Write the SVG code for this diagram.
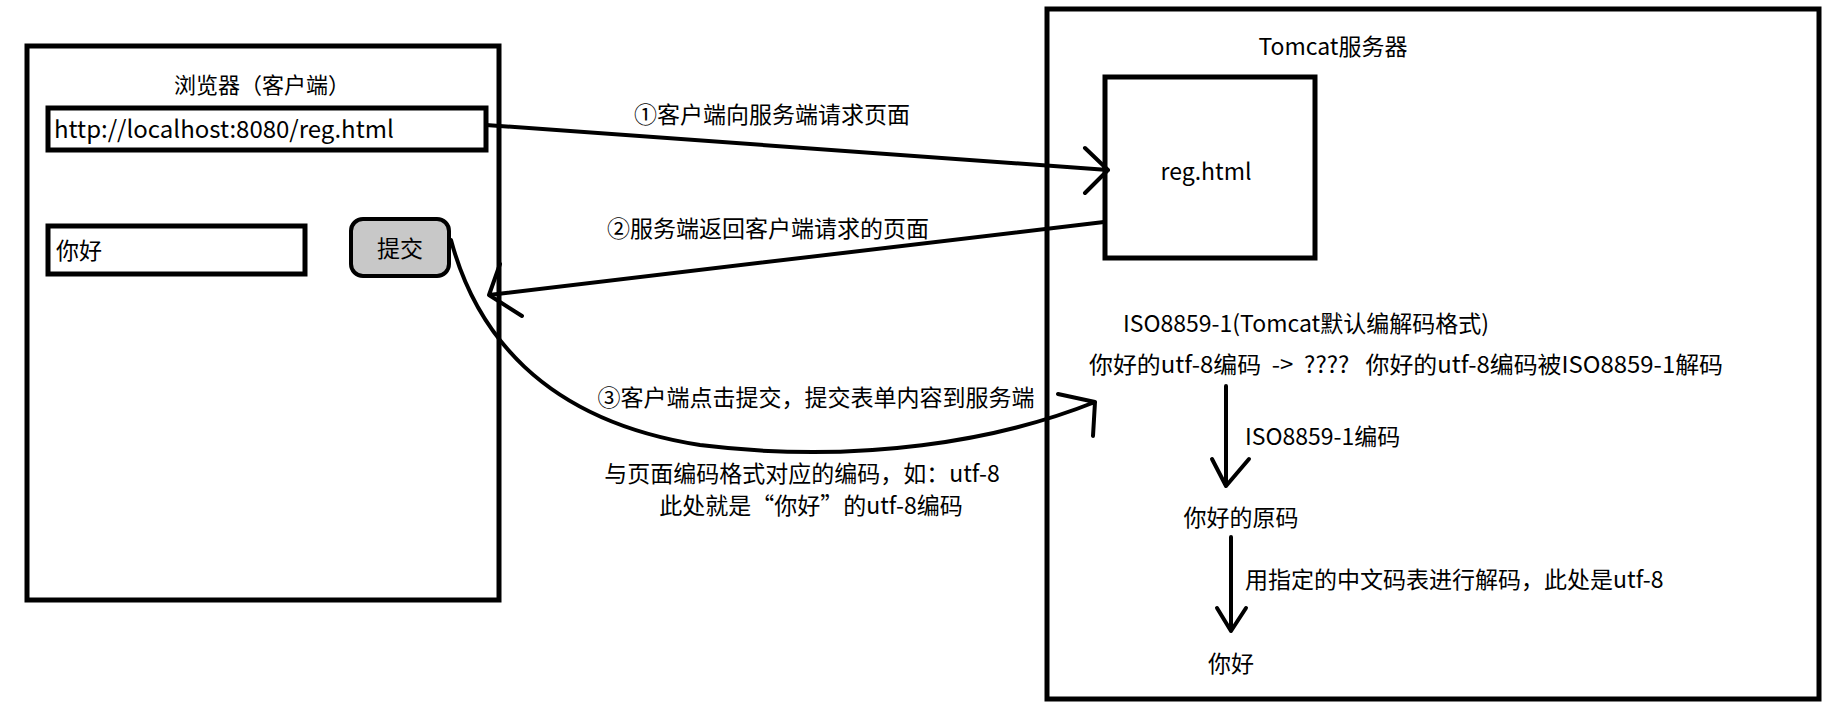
<svg xmlns="http://www.w3.org/2000/svg" width="1833" height="713" viewBox="0 0 1833 713">
<style>
text{font-family:"Noto Sans CJK SC","Noto Sans",sans-serif;font-size:23px;fill:#000}
.c{text-anchor:middle}
.b{fill:#fff;stroke:#000;stroke-width:5}
.l{fill:none;stroke:#000;stroke-width:4;stroke-linecap:round;stroke-linejoin:round}
</style>
<rect width="1833" height="713" fill="#fff"/>
<g id="browser">
<rect class="b" x="27" y="46" width="472" height="554"/>
<text class="c" x="262" y="93" style="font-size:22px">浏览器（客户端）</text>
</g>
<g id="url"><rect class="b" x="48" y="108" width="438" height="42"/><text x="54" y="138" style="font-size:24px">http://localhost:8080/reg.html</text></g>
<g id="input"><rect class="b" x="48" y="226" width="257" height="48"/><text x="56" y="259">你好</text></g>
<g id="submit"><rect x="351" y="219" width="98" height="57" rx="12" fill="#c8c8c8" stroke="#000" stroke-width="4"/><text class="c" x="400" y="257">提交</text></g>
<g id="server">
<rect class="b" x="1047" y="9" width="772" height="690"/>
<text class="c" x="1333" y="55">Tomcat服务器</text>
</g>
<g id="reg"><rect class="b" x="1105" y="77" width="210" height="181"/><text class="c" x="1206" y="180">reg.html</text></g>
<g id="texts">
<text class="c" x="1306" y="332">ISO8859-1(Tomcat默认编解码格式)</text>
<text x="1089" y="373" xml:space="preserve" textLength="634" lengthAdjust="spacingAndGlyphs">你好的utf-8编码  -&gt;  ????   你好的utf-8编码被ISO8859-1解码</text>
<text x="1245" y="445">ISO8859-1编码</text>
<text class="c" x="1241" y="526">你好的原码</text>
<text x="1245" y="588">用指定的中文码表进行解码，此处是utf-8</text>
<text class="c" x="1231" y="672">你好</text>
<text class="c" x="772" y="123">①客户端向服务端请求页面</text>
<text class="c" x="768" y="237">②服务端返回客户端请求的页面</text>
<text class="c" x="816" y="406">③客户端点击提交，提交表单内容到服务端</text>
<text class="c" x="802" y="482">与页面编码格式对应的编码，如：utf-8</text>
<text class="c" x="811" y="514">此处就是“你好”的utf-8编码</text>
</g>
<g id="connectors">
<path class="l" d="M486 125 L1108 170 M1085 148 L1108 170 L1085 193"/>
<path class="l" d="M1104 222 L489 295 M500 264 L489 295 L522 316"/>
<path class="l" d="M451 240 C475 330 540 420 700 445 C860 465 1000 440 1095 402 M1058 394 L1095 402 L1093 436"/>
<path class="l" d="M1226 386 L1226 486 M1212 459 L1226 486 L1249 459"/>
<path class="l" d="M1231 537 L1231 631 M1217 608 L1231 631 L1246 608"/>
</g>
</svg>
